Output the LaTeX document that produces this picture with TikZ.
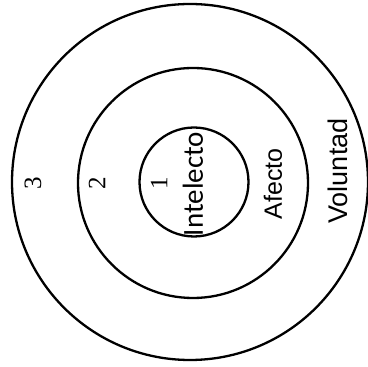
\documentclass[tikz,border=0pt]{standalone}
\usepackage{fontspec}
\setmainfont{Liberation Serif}
\setsansfont{Liberation Sans}
\newfontfamily\intfont{Carlito}
\usetikzlibrary{positioning}
\def\lw{2.3pt}

\begin{document}
\begin{tikzpicture}[x=1pt, y=1pt,
    ring/.style={draw, circle, line width=\lw, inner sep=0pt},
    cifra/.style={rotate=90, inner sep=0pt, font=\fontsize{25}{25}\selectfont},
    nivel/.style={rotate=90, inner sep=0pt, font=\sffamily\fontsize{25}{25}\selectfont}]
\useasboundingbox (0,0) rectangle (368,367);

% circulos concentricos
\foreach \d/\cx/\cy/\nm in {109/194/185/c1, 230/193/184/c2, 356/190/185/c3}{
    \node[ring, minimum size=\d pt] (\nm) at (\cx,\cy) {};
}

% numeros
\foreach \cx/\t [count=\i] in {159/1, 97/2, 33/3}{
    \node[cifra] (n\i) at (\cx,184) {\t};
}

% niveles
\node[nivel, font=\intfont\fontsize{29}{29}\selectfont] (intelecto) at (193,183) {Intelecto};
\node[nivel] (afecto) at (273,183) {Afecto};
\node[nivel, font=\sffamily\fontsize{27}{27}\selectfont] (voluntad) at (338,196) {Voluntad};

\end{tikzpicture}
\end{document}
